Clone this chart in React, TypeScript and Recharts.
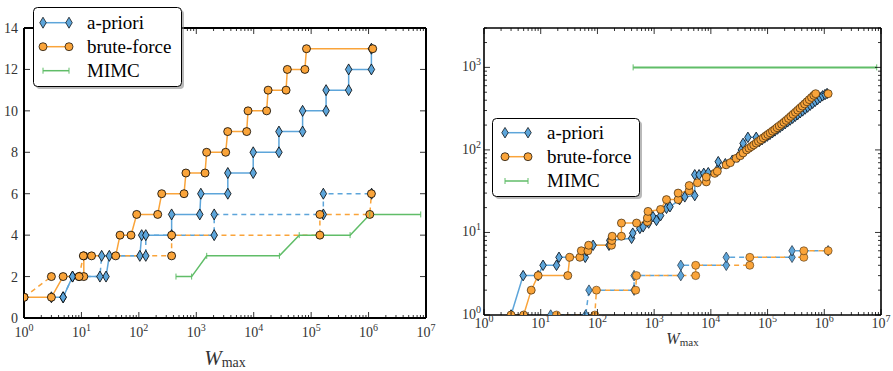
import React from 'react';
import { LineChart, Line, XAxis, YAxis } from 'recharts';

type Pt = [number, number | null];

const BLUE = '#5DA5DA';
const ORANGE = '#FAA43A';
const GREEN = '#60BD68';
const SERIF = "'Liberation Serif', 'DejaVu Serif', serif";

const seriesNames = ['a-priori', 'brute-force', 'MIMC'];

const xMajorTicks = [1, 10, 100, 1e3, 1e4, 1e5, 1e6, 1e7];
const xTickExponents = ['0', '1', '2', '3', '4', '5', '6', '7'];
const leftYTicks = [0, 2, 4, 6, 8, 10, 12, 14];
const leftYTickLabels = ['0', '2', '4', '6', '8', '10', '12', '14'];
const rightYMajorTicks = [1, 10, 100, 1000];
const rightYTickExponents = ['0', '1', '2', '3'];
const minorMultipliers = [2, 3, 4, 5, 6, 7, 8, 9];

// ---------- left panel ----------
const leftAprioriSolid: Pt[] = [
  [3, 1], [4.8, 1], [7, 2], [26.8, 2], [30.6, 3], [104, 3], [112, 4], [372, 4], [372, 5],
  [1150, 5], [1200, 6], [3540, 6], [3540, 7], [9800, 7], [9800, 8], [27500, 8], [27500, 9],
  [71000, 9], [71000, 10], [182000, 10], [182000, 11], [450000, 11], [450000, 12],
  [1120000, 12], [1120000, 13],
];
const leftBruteSolid: Pt[] = [
  [1, 1], [3, 1], [4.8, 2], [9.1, 2], [11, 2], [11, 3], [15, 3], [39.5, 3], [47, 4], [73, 4],
  [91.7, 5], [213, 5], [250, 6], [612, 6], [660, 7], [1420, 7], [1515, 8], [3250, 8],
  [3525, 9], [7550, 9], [7960, 10], [16800, 10], [17800, 11], [36600, 11], [38500, 12],
  [77800, 12], [83000, 13], [1180000, 13],
];
const leftAprioriDashed: Pt[] = [
  [4.8, 1], [7, 2], [21, 2], [22.5, 3], [132, 3], [132, 4], [2050, 4], [2050, 5],
  [163000, 5], [163000, 6], [1130000, 6],
];
const leftBruteDashed: Pt[] = [
  [1, 1], [3, 2], [5, null], [9.1, 2], [10.8, 3], [372, 3], [372, 4], [142000, 4],
  [142000, 5], [1050000, 5], [1120000, 6],
];
const leftMimc: Pt[] = [
  [443, 2], [830, 2], [1520, 3], [28000, 3], [62000, 4], [477000, 4], [1050000, 5], [8100000, 5],
];

// ---------- right panel ----------
const rightAprioriUpper: Pt[] = [
  [3, 1], [4.9, 3], [9, 3], [11, 4], [19, 4], [21, 5], [61, 5], [64, 6], [84, 7], [160, 7],
  [165, 8], [400, 8.5], [420, 9.8], [560, 11.2], [640, 11.7], [800, 13], [955, 15.5],
  [1100, 14], [1300, 16], [1650, 19.6], [1900, 20.5], [2800, 25], [3470, 27], [5200, 28],
  [5200, 50], [6200, 50], [7500, 52], [9000, 53], [13500, 60], [13500, 72], [18000, 68],
  [24000, 75], [30000, 82], [34500, 100], [37000, 120], [45000, 142], [63000, 142],
  [72000, 127], [80000, 133], [89000, 140], [99000, 147], [110000, 154], [122000, 162],
  [135000, 170], [150000, 179], [166000, 188], [184000, 198], [204000, 208], [226000, 219],
  [250000, 230], [277000, 242], [307000, 255], [340000, 268], [376000, 282], [416000, 297],
  [460000, 313], [509000, 330], [563000, 348], [623000, 367], [689000, 387], [762000, 408],
  [843000, 430], [932000, 452], [1030000, 468], [1120000, 482],
];
const rightBruteUpper: Pt[] = [
  [3, 1], [5, 1], [6.8, 2], [9, 3], [30, 3], [32.5, 5], [49, 5], [52, 6], [68, 6], [70, 7],
  [177, 7], [180, 8], [182, 9], [265, 9], [265, 13], [490, 13], [760, 13.5], [760, 15],
  [780, 18], [1300, 19], [1650, 25], [2650, 25], [2650, 30], [4150, 32], [4150, 37],
  [5800, 40], [8300, 41], [8300, 47], [11700, 52], [13000, 55], [18600, 66], [22000, 70],
  [28000, 79], [33000, 85], [37000, 92], [42600, 100], [47000, 105], [52000, 110],
  [57000, 115], [63000, 121], [69000, 127], [76000, 133], [84000, 140], [92000, 147],
  [101000, 154], [111000, 161], [122000, 169], [134000, 177], [147000, 186], [161000, 195],
  [177000, 205], [194000, 216], [213000, 228], [234000, 241], [257000, 255], [282000, 270],
  [310000, 286], [340000, 303], [373000, 321], [410000, 340], [450000, 361], [494000, 383],
  [543000, 407], [596000, 432], [655000, 458], [705000, 480], [1170000, 480],
];
const rightAprioriLower: Pt[] = [
  [15, 1], [62, 1], [71, 2], [443, 2], [443, 3], [2950, 3], [2950, 4], [18700, 4],
  [18700, 5], [270000, 5], [270000, 6], [1170000, 6],
];
const rightBruteLower: Pt[] = [
  [19, 1], [90, 1], [96, 2], [473, 2], [488, 3], [5400, 3], [5400, 4], [48600, 4],
  [48600, 5], [436000, 5], [436000, 6], [1170000, 6],
];
const rightMimc: Pt[] = [[426, 1000], [8400000, 1000]];

const toData = (pts: Pt[]) => pts.map(([x, y]) => ({ x, y }));

const minorsFor = (majors: number[], max: number) => {
  const out: number[] = [];
  majors.forEach((m) => minorMultipliers.forEach((k) => { if (m * k <= max) out.push(m * k); }));
  return out;
};
const xAllTicks = [...xMajorTicks, ...minorsFor(xMajorTicks.slice(0, 7), 1e7)].sort((a, b) => a - b);
const rightYAllTicks = [...rightYMajorTicks, ...minorsFor(rightYMajorTicks, 3000)].sort((a, b) => a - b);

const majorIndex = (majors: number[], v: number) =>
  majors.findIndex((t) => Math.abs(t - v) / t < 1e-6);

const fontStyle = { fontFamily: SERIF };

// ---------- markers ----------
const diamondDot = (w: number, h: number, sw: number, edge: string) => (p: any) => {
  const { cx, cy, index, value } = p;
  if (cx == null || cy == null || value == null || isNaN(cx) || isNaN(cy)) return <g key={`d${index}`} />;
  return (
    <path key={`d${index}`} d={`M${cx},${cy - h / 2}L${cx + w / 2},${cy}L${cx},${cy + h / 2}L${cx - w / 2},${cy}Z`}
      fill={BLUE} stroke={edge} strokeWidth={sw} />
  );
};
const circleDot = (r: number, sw: number, edge: string) => (p: any) => {
  const { cx, cy, index, value } = p;
  if (cx == null || cy == null || value == null || isNaN(cx) || isNaN(cy)) return <g key={`c${index}`} />;
  return <circle key={`c${index}`} cx={cx} cy={cy} r={r} fill={ORANGE} stroke={edge} strokeWidth={sw} />;
};
const vlineDot = (h: number) => (p: any) => {
  const { cx, cy, index } = p;
  if (cx == null || cy == null || isNaN(cx) || isNaN(cy)) return <g key={`v${index}`} />;
  return <line key={`v${index}`} x1={cx} x2={cx} y1={cy - h / 2} y2={cy + h / 2} stroke={GREEN} strokeWidth={1} />;
};

// ---------- ticks ----------
type TickCfg = { major: number; minor: number; fs: number; sfs: number; sdy: number; labelOff: number };

const bottomLogTick = (cfg: TickCfg) => (p: any) => {
  const { x, y, payload, index } = p;
  const i = majorIndex(xMajorTicks, payload.value);
  const maj = i >= 0;
  return (
    <g key={`bt${index}`}>
      <line x1={x} x2={x} y1={y} y2={y - (maj ? cfg.major : cfg.minor)} stroke="#000" strokeWidth={0.8} />
      {maj && (
        <text x={x} y={y + cfg.labelOff} textAnchor="middle" fontFamily={SERIF} style={fontStyle} fontSize={cfg.fs} fill="#333">
          10<tspan dy={cfg.sdy} fontSize={cfg.sfs}>{xTickExponents[i]}</tspan>
        </text>
      )}
    </g>
  );
};
// top ticks; ticks hidden behind the legend box (hideFrom..hideTo) are skipped
const topLogTick = (cfg: TickCfg, hideFrom: number, hideTo: number) => (p: any) => {
  const { x, y, payload, index } = p;
  const maj = majorIndex(xMajorTicks, payload.value) >= 0;
  if (x >= hideFrom && x <= hideTo) return <g key={`tt${index}`} />;
  return <line key={`tt${index}`} x1={x} x2={x} y1={y} y2={y + (maj ? cfg.major : cfg.minor)} stroke="#000" strokeWidth={0.8} />;
};
const leftLinTick = (p: any) => {
  const { x, y, payload, index } = p;
  const i = leftYTicks.indexOf(payload.value);
  return (
    <g key={`lt${index}`}>
      <line x1={x} x2={x + 6} y1={y} y2={y} stroke="#000" strokeWidth={0.8} />
      <text x={x - 6} y={y + 5} textAnchor="end" fontFamily={SERIF} style={fontStyle} fontSize={14} fill="#333">
        {leftYTickLabels[i]}
      </text>
    </g>
  );
};
const rightLinTick = (p: any) => {
  const { x, y, index } = p;
  return <line key={`rt${index}`} x1={x} x2={x - 6} y1={y} y2={y} stroke="#000" strokeWidth={0.8} />;
};
const leftLogTick = (p: any) => {
  const { x, y, payload, index } = p;
  const i = majorIndex(rightYMajorTicks, payload.value);
  const maj = i >= 0;
  return (
    <g key={`llt${index}`}>
      <line x1={x} x2={x + (maj ? 6 : 3)} y1={y} y2={y} stroke="#000" strokeWidth={0.8} />
      {maj && (
        <text x={x - 3} y={y + 4} textAnchor="end" fontFamily={SERIF} style={fontStyle} fontSize={14} fill="#333">
          10<tspan dy={-6} fontSize={10}>{rightYTickExponents[i]}</tspan>
        </text>
      )}
    </g>
  );
};
const rightLogTick = (p: any) => {
  const { x, y, payload, index } = p;
  const maj = majorIndex(rightYMajorTicks, payload.value) >= 0;
  return <line key={`rlt${index}`} x1={x} x2={x - (maj ? 6 : 3)} y1={y} y2={y} stroke="#000" strokeWidth={0.8} />;
};

// ---------- axis title ----------
const AxisTitle = (props: any) => {
  const { viewBox, dy, fs, sfs, sdy } = props;
  const vb = viewBox || { x: 0, y: 0, width: 0 };
  return (
    <text x={vb.x + vb.width / 2} y={vb.y + dy} textAnchor="middle" fontFamily={SERIF} style={fontStyle} fontSize={fs} fill="#333">
      <tspan fontStyle="italic">W</tspan>
      <tspan fontSize={sfs} dy={sdy}>max</tspan>
    </text>
  );
};

// ---------- legend (drawn inside the chart svg, attached to the top axis) ----------
const LegendBox = ({ bx, by, w, h, x0, x1, tx, ys, markerR, dW, dH }: any) => (
  <g transform={`translate(${bx},${by})`} className="chart-legend">
    <rect x={3} y={3} width={w - 1} height={h - 1} rx={4} fill="#808080" opacity={0.55} />
    <rect x={0.5} y={0.5} width={w - 1} height={h - 1} rx={4} fill="#fff" stroke="#000" strokeWidth={1} />
    <line x1={x0} x2={x1} y1={ys[0]} y2={ys[0]} stroke={BLUE} strokeWidth={1.5} />
    {[x0, x1].map((cx, k) => (
      <path key={`la${k}`} d={`M${cx},${ys[0] - dH / 2}L${cx + dW / 2},${ys[0]}L${cx},${ys[0] + dH / 2}L${cx - dW / 2},${ys[0]}Z`}
        fill={BLUE} stroke="#000" strokeWidth={0.7} />
    ))}
    <line x1={x0} x2={x1} y1={ys[1]} y2={ys[1]} stroke={ORANGE} strokeWidth={1.5} />
    {[x0, x1].map((cx, k) => (
      <circle key={`lb${k}`} cx={cx} cy={ys[1]} r={markerR} fill={ORANGE} stroke="#000" strokeWidth={0.7} />
    ))}
    <line x1={x0} x2={x1} y1={ys[2]} y2={ys[2]} stroke={GREEN} strokeWidth={1.5} />
    {[x0, x1].map((cx, k) => (
      <line key={`lm${k}`} x1={cx} x2={cx} y1={ys[2] - 3} y2={ys[2] + 3} stroke={GREEN} strokeWidth={1} />
    ))}
    {seriesNames.map((n, k) => (
      <text key={n} x={tx} y={ys[k] + 6} fontFamily={SERIF} style={fontStyle} fontSize={19} fill="#000">{n}</text>
    ))}
  </g>
);

function LeftPanel() {
  const W = 445, H = 371;
  const frame = { stroke: '#000', strokeWidth: 2 };
  const bt: TickCfg = { major: 6, minor: 3, fs: 14, sfs: 10, sdy: -6, labelOff: 19 };
  return (
    <LineChart width={W} height={H} margin={{ top: 0, left: 0, right: 0, bottom: 0 }}>
      <XAxis xAxisId="b" dataKey="x" type="number" scale="log" domain={[1, 1e7]} allowDataOverflow
        ticks={xAllTicks} interval={0} tickSize={0} tickMargin={0} tickLine={false} height={H - 318}
        axisLine={frame} tick={bottomLogTick(bt)}
        label={<AxisTitle dy={47} fs={21} sfs={14} sdy={2} />} />
      <YAxis yAxisId="l" type="number" domain={[0, 14]} allowDataOverflow ticks={leftYTicks} interval={0}
        tickSize={0} tickMargin={0} tickLine={false} width={24} axisLine={frame} tick={leftLinTick} />
      <YAxis yAxisId="r" orientation="right" type="number" domain={[0, 14]} allowDataOverflow ticks={leftYTicks}
        interval={0} tickSize={0} tickMargin={0} tickLine={false} width={W - 426} axisLine={frame} tick={rightLinTick} />
      <XAxis xAxisId="t" orientation="top" dataKey="x" type="number" scale="log" domain={[1, 1e7]} allowDataOverflow
        ticks={xAllTicks} interval={0} tickSize={0} tickMargin={0} tickLine={false} height={28}
        axisLine={frame} tick={topLogTick(bt, 32, 186)}
        label={<LegendBox bx={33} by={7} w={149} h={80} x0={10} x1={36} tx={54} ys={[15.7, 39.7, 63.7]} markerR={4} dW={6.5} dH={11} />} />
      <Line xAxisId="b" yAxisId="l" data={toData(leftAprioriSolid)} dataKey="y" stroke={BLUE} strokeWidth={1.5}
        dot={diamondDot(6.5, 11, 0.8, '#000')} activeDot={false} isAnimationActive={false} />
      <Line xAxisId="b" yAxisId="l" data={toData(leftBruteSolid)} dataKey="y" stroke={ORANGE} strokeWidth={1.5}
        dot={circleDot(4, 0.8, '#000')} activeDot={false} isAnimationActive={false} />
      <Line xAxisId="b" yAxisId="l" data={toData(leftAprioriDashed)} dataKey="y" stroke={BLUE} strokeWidth={1.5}
        strokeDasharray="5 4" dot={diamondDot(6.5, 11, 0.8, '#000')} activeDot={false} isAnimationActive={false} />
      <Line xAxisId="b" yAxisId="l" data={toData(leftBruteDashed)} dataKey="y" stroke={ORANGE} strokeWidth={1.5}
        strokeDasharray="5 4" dot={circleDot(4, 0.8, '#000')} activeDot={false} isAnimationActive={false} />
      <Line xAxisId="b" yAxisId="l" data={toData(leftMimc)} dataKey="y" stroke={GREEN} strokeWidth={1.5}
        dot={vlineDot(6)} activeDot={false} isAnimationActive={false} />
    </LineChart>
  );
}

function RightPanel() {
  const W = 448, H = 371;
  const frame = { stroke: '#000', strokeWidth: 1.6 };
  const bt: TickCfg = { major: 6, minor: 3, fs: 14, sfs: 10, sdy: -6, labelOff: 13 };
  return (
    <LineChart width={W} height={H} margin={{ top: 0, left: 0, right: 0, bottom: 0 }}>
      <XAxis xAxisId="b" dataKey="x" type="number" scale="log" domain={[1, 1e7]} allowDataOverflow
        ticks={xAllTicks} interval={0} tickSize={0} tickMargin={0} tickLine={false} height={H - 315}
        axisLine={frame} tick={bottomLogTick(bt)}
        label={<AxisTitle dy={29} fs={16} sfs={11} sdy={2} />} />
      <YAxis yAxisId="l" type="number" scale="log" domain={[1, 3000]} allowDataOverflow ticks={rightYAllTicks}
        interval={0} tickSize={0} tickMargin={0} tickLine={false} width={484 - 445} axisLine={frame} tick={leftLogTick} />
      <YAxis yAxisId="r" orientation="right" type="number" scale="log" domain={[1, 3000]} allowDataOverflow
        ticks={rightYAllTicks} interval={0} tickSize={0} tickMargin={0} tickLine={false} width={W - (881 - 445)}
        axisLine={frame} tick={rightLogTick} />
      <XAxis xAxisId="t" orientation="top" dataKey="x" type="number" scale="log" domain={[1, 1e7]} allowDataOverflow
        ticks={xAllTicks} interval={0} tickSize={0} tickMargin={0} tickLine={false} height={28}
        axisLine={frame} tick={topLogTick(bt, -1, -1)}
        label={<LegendBox bx={492 - 445} by={118} w={148} h={79} x0={13} x1={36} tx={55} ys={[14.7, 38.7, 63]} markerR={4} dW={6.5} dH={10.5} />} />
      <Line xAxisId="b" yAxisId="l" data={toData(rightAprioriUpper)} dataKey="y" stroke={BLUE} strokeWidth={1.5}
        dot={diamondDot(6.5, 10.5, 0.9, '#0d1a26')} activeDot={false} isAnimationActive={false} />
      <Line xAxisId="b" yAxisId="l" data={toData(rightBruteUpper)} dataKey="y" stroke={ORANGE} strokeWidth={1.5}
        dot={circleDot(4, 0.7, '#3a2408')} activeDot={false} isAnimationActive={false} />
      <Line xAxisId="b" yAxisId="l" data={toData(rightAprioriLower)} dataKey="y" stroke={BLUE} strokeWidth={1.5}
        strokeDasharray="5 4" dot={diamondDot(6.5, 10.5, 0.7, '#1c2c3c')} activeDot={false} isAnimationActive={false} />
      <Line xAxisId="b" yAxisId="l" data={toData(rightBruteLower)} dataKey="y" stroke={ORANGE} strokeWidth={1.5}
        strokeDasharray="5 4" dot={circleDot(4, 0.6, '#4a3010')} activeDot={false} isAnimationActive={false} />
      <Line xAxisId="b" yAxisId="l" data={toData(rightMimc)} dataKey="y" stroke={GREEN} strokeWidth={2}
        dot={vlineDot(6)} activeDot={false} isAnimationActive={false} />
    </LineChart>
  );
}

export default function App() {
  return (
    <div style={{ position: 'absolute', left: 0, top: 0, width: 893, height: 371, background: '#fff', overflow: 'hidden' }}>
      <div style={{ position: 'absolute', left: 0, top: 0 }}>
        <LeftPanel />
      </div>
      <div style={{ position: 'absolute', left: 445, top: 0 }}>
        <RightPanel />
      </div>
    </div>
  );
}
